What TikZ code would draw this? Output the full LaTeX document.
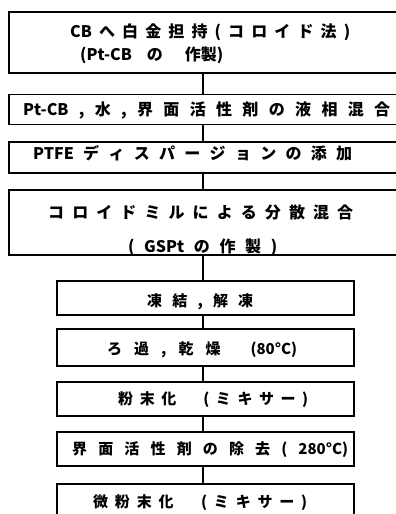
\documentclass[tikz,border=0pt]{standalone}
\usepackage{fontspec}
\newfontfamily\jp{Noto Sans CJK JP}
\def\sprend{\sprend}
\def\sprfirst#1{#1\sprrest}
\def\sprrest#1{\ifx\sprend#1\else\hfil#1\expandafter\sprrest\fi}
\newcommand{\spr}[2]{\makebox[#1][s]{\sprfirst#2\sprend}}
\begin{document}
\begin{tikzpicture}[x=1pt,y=-1pt,
  box/.style={draw, line width=1.5pt, inner sep=0pt},
  lbl/.style={anchor=west, inner sep=0pt, font=\jp\bfseries\fontsize{16}{16}\selectfont},
  slbl/.style={anchor=west, inner sep=0pt, font=\jp\bfseries\fontsize{15}{15}\selectfont},
  link/.style={line width=1.4pt}]
\useasboundingbox (0,0) rectangle (396,514);
\clip (0,0) rectangle (396,514);
\coordinate (c) at (203,0);
% upper boxes
\node[box, minimum width=391pt, minimum height=61pt] (b1) at (204.5,42.5) {};
\node[box, minimum width=391pt, minimum height=30pt] (b2) at (204.5,109.5) {};
\node[box, minimum width=391pt, minimum height=31pt] (b3) at (204.5,157.5) {};
\node[box, minimum width=391pt, minimum height=65pt] (b4) at (204.5,222.5) {};
% lower boxes
\node[box, minimum width=297pt, minimum height=34pt] (b5) at (205.5,298) {};
\node[box, minimum width=297pt, minimum height=37pt] (b6) at (205.5,347.5) {};
\node[box, minimum width=297pt, minimum height=34pt] (b7) at (205.5,399) {};
\node[box, minimum width=297pt, minimum height=34pt] (b8) at (205.5,449) {};
\node[box, minimum width=297pt, minimum height=36pt] (b9) at (205.5,502) {};
% texts
\node[lbl] (t1a) at (70,32) {\spr{280pt}{{CB}へ白金担持(コロイド法)}};
\node[lbl] (t1b) at (80,55) {(Pt-CB\hspace{15pt}の\hspace{22pt}作製)};
\node[lbl] (t2) at (23,110) {\spr{367pt}{{Pt-CB},水,界面活性剤の液相混合}};
\node[lbl] (t3) at (33,153) {\spr{319pt}{{PTFE}ディスパージョンの添加}};
\node[lbl] (t4a) at (48,212) {\spr{305pt}{コロイドミルによる分散混合}};
\node[lbl] (t4b) at (128,247) {\spr{149pt}{({GSPt}の作製)}};
\node[slbl] (t5) at (147,302) {\spr{106pt}{凍結,解凍}};
\node[slbl] (t6) at (107,350) {\spr{190pt}{ろ過,乾燥{\hspace{6pt}}{(80°C)}}};
\node[slbl] (t7) at (118,400) {\spr{190pt}{粉末化{\hspace{14pt}}(ミキサー)}};
\node[slbl] (t8) at (72,450) {\spr{276pt}{界面活性剤の除去({280°C)}}};
\node[slbl] (t9) at (93,503) {\spr{214pt}{微粉末化{\hspace{14pt}}(ミキサー)}};
% connectors
\draw[link] (b1.south -| c) -- (b2.north -| c);
\draw[link] (b2.south -| c) -- (b3.north -| c);
\draw[link] (b3.south -| c) -- (b4.north -| c);
\draw[link] (b4.south -| c) -- (b5.north -| c);
\draw[link] (b5.south -| c) -- (b6.north -| c);
\draw[link] (b6.south -| c) -- (b7.north -| c);
\draw[link] (b7.south -| c) -- (b8.north -| c);
\draw[link] (b8.south -| c) -- (b9.north -| c);
\end{tikzpicture}
\end{document}
